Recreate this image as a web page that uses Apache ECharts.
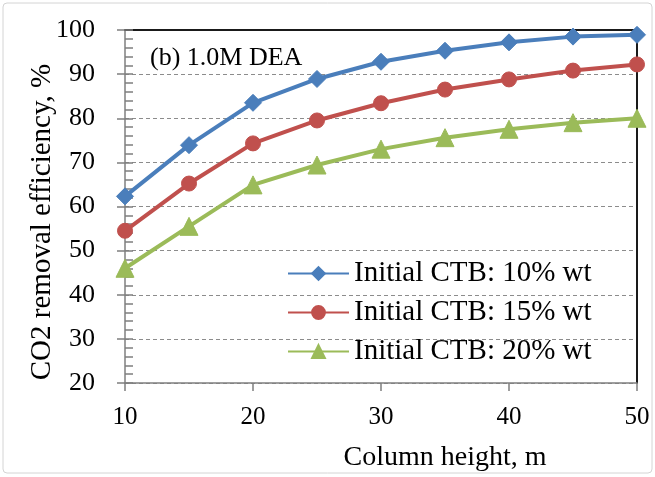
<!DOCTYPE html>
<html>
<head>
<meta charset="utf-8">
<script src="https://cdn.jsdelivr.net/npm/echarts@6/dist/echarts.min.js"></script>
<style>
  html, body { margin: 0; padding: 0; background: #fff; }
  #chart { width: 655px; height: 477px; }
</style>
</head>
<body>
<div id="chart"></div>
<script>
// Column height (m)
const heights = [10, 15, 20, 25, 30, 35, 40, 45, 50];
// CO2 removal efficiency (%) for each initial CTB loading
const ctb10 = [62.3, 73.9, 83.5, 88.9, 92.8, 95.3, 97.2, 98.5, 98.9];
const ctb15 = [54.5, 65.2, 74.3, 79.5, 83.4, 86.5, 88.8, 90.8, 92.2];
const ctb20 = [46.0, 55.5, 64.9, 69.4, 73.0, 75.6, 77.5, 79.0, 80.0];
const seriesNames = ['Initial CTB: 10% wt', 'Initial CTB: 15% wt', 'Initial CTB: 20% wt'];
const xTicks = [10, 20, 30, 40, 50];
const yTicks = [20, 30, 40, 50, 60, 70, 80, 90, 100];

const serif = '"Liberation Serif", "Times New Roman", serif';
const colors = ['#4A7EBB', '#C0504D', '#9BBB59'];
const symbols = ['diamond', 'circle', 'triangle'];
const symbolSizes = [17, 15, 18];

function pairs(values) {
  return heights.map((h, i) => [h, values[i]]);
}

const chart = echarts.init(document.getElementById('chart'), null, { renderer: 'canvas' });

const yMin = yTicks[0], yMax = yTicks[yTicks.length - 1];
const xMin = xTicks[0], xMax = xTicks[xTicks.length - 1];
const tickGrey = '#7f7f7f';

chart.setOption({
  backgroundColor: '#fff',
  animation: false,
  grid: { left: 125, right: 18, top: 30, bottom: 94, containLabel: false },
  legend: {
    left: 282,
    top: 254,
    orient: 'vertical',
    itemWidth: 61,
    itemHeight: 16,
    itemGap: 10,
    data: seriesNames,
    textStyle: { fontFamily: serif, fontSize: 29, color: '#000' }
  },
  graphic: [
    {
      type: 'rect',
      shape: { x: 3, y: 3, width: 649, height: 470, r: 4 },
      style: { fill: 'none', stroke: '#d4d4d4', lineWidth: 1 },
      silent: true
    },
    {
      type: 'text',
      left: 150,
      top: 45,
      style: { text: '(b) 1.0M DEA', font: '26px ' + serif, fill: '#000' }
    },
    {
      // y-axis title, rotated to read bottom-to-top
      type: 'text',
      x: 42,
      y: 222,
      rotation: Math.PI / 2,
      style: {
        text: 'CO2 removal efficiency, %',
        font: '29px ' + serif,
        fill: '#000',
        align: 'center',
        verticalAlign: 'middle'
      }
    }
  ],
  xAxis: [
    {
      type: 'value',
      min: xMin,
      max: xMax,
      interval: 10,
      name: 'Column height, m',
      nameLocation: 'middle',
      nameGap: 61,
      nameTextStyle: { fontFamily: serif, fontSize: 28, color: '#000', padding: [0, 0, 0, 128] },
      axisLine: { show: true, onZero: false, lineStyle: { color: tickGrey, width: 1.5 } },
      axisTick: { show: true, length: 8, lineStyle: { color: tickGrey, width: 1.5 } },
      axisLabel: { margin: 22, fontFamily: serif, fontSize: 25, color: '#000' },
      splitLine: { show: false }
    },
    {
      type: 'value',
      position: 'top',
      min: xMin,
      max: xMax,
      axisLine: { show: true, onZero: false, lineStyle: { color: '#1a1a1a', width: 2 } },
      axisTick: { show: false },
      axisLabel: { show: false },
      splitLine: { show: false }
    }
  ],
  yAxis: [
    {
      type: 'value',
      min: yMin,
      max: yMax,
      interval: 10,
      axisLine: { show: true, onZero: false, lineStyle: { color: tickGrey, width: 1.5 } },
      axisTick: { show: true, inside: true, length: 8, lineStyle: { color: tickGrey, width: 1.5 } },
      minorTick: { show: true, splitNumber: 5, length: 8, lineStyle: { color: tickGrey, width: 1.5 } },
      axisLabel: { margin: 30, fontFamily: serif, fontSize: 26, color: '#000' },
      splitLine: { show: true, lineStyle: { color: '#8c8c8c', width: 1, type: [4, 3] } }
    },
    {
      // outward major ticks on the left axis
      type: 'value',
      position: 'left',
      offset: 0,
      min: yMin,
      max: yMax,
      interval: 10,
      axisLine: { show: false, onZero: false },
      axisTick: { show: true, length: 8, lineStyle: { color: tickGrey, width: 1.5 } },
      axisLabel: { show: false },
      splitLine: { show: false }
    },
    {
      type: 'value',
      position: 'right',
      min: yMin,
      max: yMax,
      axisLine: { show: true, onZero: false, lineStyle: { color: '#1a1a1a', width: 2 } },
      axisTick: { show: false },
      axisLabel: { show: false },
      splitLine: { show: false }
    }
  ],
  series: [ctb10, ctb15, ctb20].map((vals, i) => ({
    name: seriesNames[i],
    type: 'line',
    data: pairs(vals),
    symbol: symbols[i],
    symbolSize: symbolSizes[i],
    showAllSymbol: true,
    lineStyle: { color: colors[i], width: 4 },
    itemStyle: { color: colors[i], borderColor: colors[i], borderWidth: 1 },
    z: 3 + (2 - i),
    emphasis: { disabled: true }
  }))
});
</script>
</body>
</html>
